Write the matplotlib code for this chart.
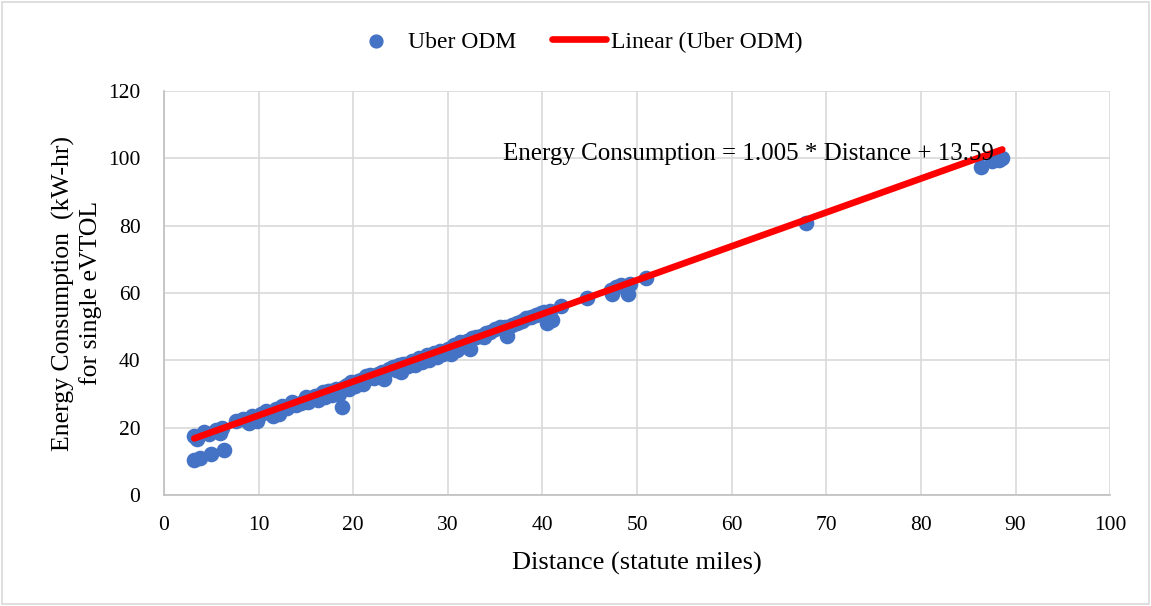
import matplotlib.pyplot as plt
from matplotlib.patches import Rectangle
import numpy as np

plt.rcParams['font.family'] = ['Liberation Serif', 'DejaVu Serif']

# Trip distance (statute miles) and energy per trip (kW-hr)
distance = [3.2, 3.5, 4.2, 4.8, 5.5, 5.9, 6.1, 3.2, 3.8, 5.0, 6.3,
            7.6, 8.3, 9.0, 9.3, 9.8, 10.2, 11.5, 11.8, 12.2, 12.5, 13.0,
            13.5, 14.0, 14.5, 15.0, 15.2, 15.5, 16.0, 16.3, 16.8, 17.0,
            17.5, 17.8, 18.2, 18.5, 18.8, 19.0, 19.5, 19.8, 20.2, 20.5,
            21.0, 21.3, 21.8, 22.2, 23.0, 23.3, 23.8, 24.2, 24.8, 25.0,
            25.3, 25.8, 26.2, 26.5, 27.0, 27.3, 27.8, 28.0, 28.5, 28.8,
            29.2, 29.5, 30.0, 30.3, 30.6, 31.0, 31.3, 31.6, 32.0, 32.3,
            32.6, 33.0, 33.5, 34.0, 34.5, 35.0, 35.5, 36.0, 36.3, 36.8,
            37.3, 37.8, 38.3, 38.8, 39.3, 39.8, 40.2, 40.5, 40.8, 41.0,
            42.0, 44.7, 47.2, 47.4, 47.8, 48.3, 49.0, 49.2, 50.9, 67.9,
            86.3, 87.5, 88.3, 88.6,
            10.8, 12.8, 14.8, 16.6, 18.0, 20.8, 22.6, 24.5, 26.8, 29.8,
            31.8, 33.8, 15.8, 17.3, 19.3, 21.6, 25.6, 27.6]
energy = [17.5, 16.5, 18.8, 18.0, 19.2, 18.5, 19.8, 10.5, 11.0, 12.2, 13.4,
          22.0, 22.5, 21.3, 23.5, 22.0, 24.0, 23.5, 25.5, 24.2, 26.5, 25.8,
          27.5, 26.8, 27.2, 29.0, 27.5, 28.5, 29.5, 28.2, 30.5, 29.0,
          31.0, 29.8, 31.5, 30.0, 26.2, 32.0, 31.5, 33.5, 32.5, 34.0,
          33.0, 35.2, 35.5, 34.8, 36.5, 34.5, 37.5, 38.0, 38.5, 36.5,
          39.0, 38.2, 39.8, 38.5, 40.8, 39.5, 41.5, 40.0, 42.2, 41.0,
          42.8, 42.0, 43.5, 41.8, 44.5, 43.0, 45.5, 44.2, 45.8, 43.5,
          46.5, 46.8, 47.2, 48.0, 48.5, 49.2, 49.8, 50.0, 47.2, 50.5,
          51.2, 51.8, 52.5, 53.0, 53.5, 54.2, 54.5, 51.2, 54.8, 52.0,
          56.2, 58.5, 61.0, 59.8, 61.8, 62.3, 59.8, 62.6, 64.6, 80.8,
          97.5, 99.2, 99.6, 100.0,
          24.8, 26.0, 28.0, 30.0, 31.0, 34.2, 35.8, 37.2, 39.8, 42.8,
          44.8, 47.0, 29.2, 30.8, 32.6, 34.8, 38.8, 40.8]

slope = 1.005
intercept = 13.59

fig = plt.figure(figsize=(11.51, 6.06), dpi=100)
ax = fig.add_axes([0.1425, 0.1832, 0.822, 0.6666])

ax.scatter(distance, energy, s=105, color='#4472c4', zorder=3, label='Uber ODM')
fit_x = np.array([min(distance), max(distance)])
ax.plot(fit_x, slope * fit_x + intercept, color='#ff0000', lw=4.8,
        solid_capstyle='round', zorder=4, label='Linear (Uber ODM)')

ax.text(35.8, 101.3, 'Energy Consumption = 1.005 * Distance + 13.59',
        fontsize=18, va='center', ha='left', zorder=5)

ax.set_xlim(0, 100)
ax.set_ylim(0, 120)
ax.set_xticks(range(0, 101, 10))
ax.set_yticks(range(0, 121, 20))
ax.grid(True, color='#d9d9d9', lw=1.2, zorder=0)
ax.set_axisbelow(True)
ax.tick_params(length=0, labelsize=15.5)
ax.tick_params(axis='x', pad=15)
ax.tick_params(axis='y', pad=17)
for side in ['top', 'right']:
    ax.spines[side].set_visible(False)
for side in ['left', 'bottom']:
    ax.spines[side].set_color('#bfbfbf')
    ax.spines[side].set_linewidth(1.2)

ax.set_xlabel('Distance (statute miles)', fontsize=19, labelpad=12)
ax.set_ylabel('Energy Consumption  (kW-hr)\nfor single eVTOL', fontsize=18.5,
              labelpad=4, linespacing=1.25)

fig.legend(loc='center', bbox_to_anchor=(0.5, 0.931), ncol=2, frameon=False,
           fontsize=17, handlelength=2.3, columnspacing=1.5, handletextpad=0.2,
           markerscale=0.9)

fig.patches.append(Rectangle((0.002, 0.003), 0.996, 0.994, transform=fig.transFigure,
                             fill=False, edgecolor='#d9d9d9', lw=1.2))

fig.savefig('out.png', dpi=100)
